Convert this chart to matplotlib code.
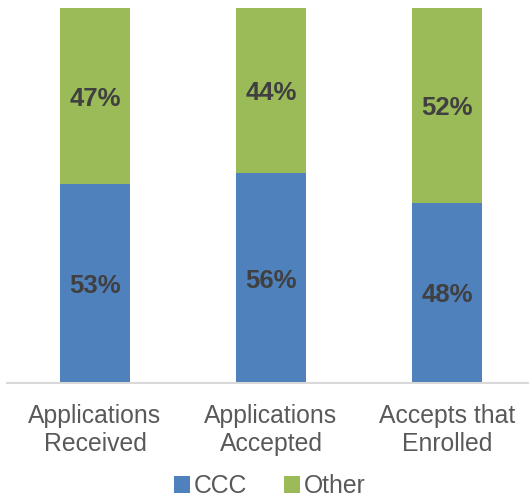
import numpy as np
import matplotlib.pyplot as plt

plt.rcParams['font.family'] = ['Liberation Sans', 'DejaVu Sans']

categories = ['Applications\nReceived', 'Applications\nAccepted', 'Accepts that\nEnrolled']
ccc = [0.53, 0.56, 0.48]
other = [0.47, 0.44, 0.52]

blue = '#4F81BD'
green = '#9BBB59'

fig = plt.figure(figsize=(5.29, 4.97), dpi=100)
ax = fig.add_axes([7 / 529, 1 - 383 / 497, 528 / 529, 375 / 497])

x = np.arange(len(categories))
ax.bar(x, ccc, width=0.4, color=blue, label='CCC')
ax.bar(x, other, width=0.4, bottom=ccc, color=green, label='Other')

for i in range(len(x)):
    ax.text(x[i], ccc[i] / 2, f'{ccc[i]:.0%}', ha='center', va='center_baseline',
            fontsize=18.5, fontweight='bold', color='#404040')
    ax.text(x[i], ccc[i] + other[i] / 2, f'{other[i]:.0%}', ha='center', va='center_baseline',
            fontsize=18.5, fontweight='bold', color='#404040')

ax.set_xlim(-0.5, 2.5)
ax.set_ylim(0, 1)
ax.set_yticks([])
ax.set_xticks(x)
ax.set_xticklabels(categories, fontsize=17.8, color='#595959', linespacing=1.2)
ax.tick_params(axis='x', length=0, pad=15)
for s in ['top', 'right', 'left']:
    ax.spines[s].set_visible(False)
ax.spines['bottom'].set_color('#D9D9D9')
ax.spines['bottom'].set_linewidth(1.5)

leg = fig.legend(loc='lower center', bbox_to_anchor=(0.51, -0.047), ncol=2, frameon=False,
                 fontsize=17.8, handlelength=0.65, handleheight=0.65, handletextpad=0.15,
                 columnspacing=1.5)
for t in leg.get_texts():
    t.set_color('#595959')

fig.savefig('out.png', dpi=100)
